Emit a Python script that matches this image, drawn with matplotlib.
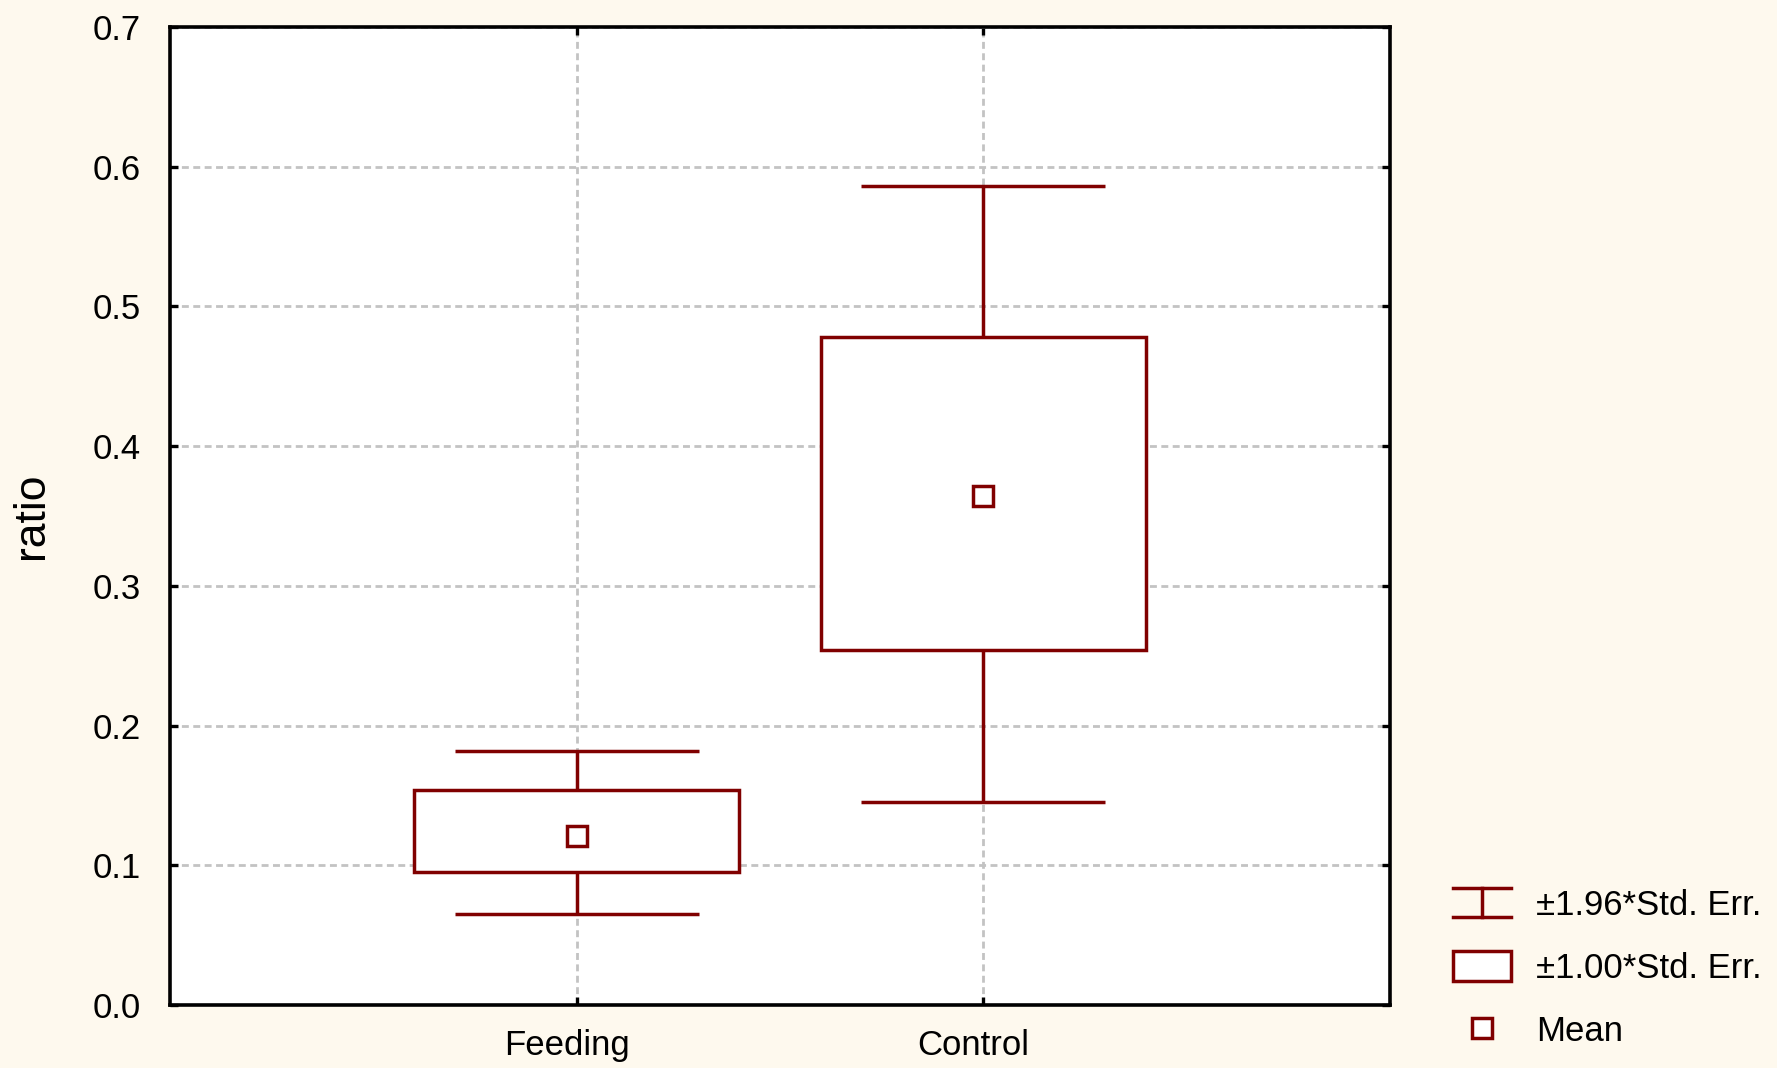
import matplotlib
matplotlib.use('Agg')
import matplotlib.pyplot as plt
import matplotlib.transforms as mtransforms
from matplotlib.patches import Rectangle
from matplotlib.lines import Line2D
from matplotlib.legend_handler import HandlerBase

# values
groups = ['Feeding', 'Control']
means = [0.121, 0.364]
se_lo = [0.095, 0.254]   # mean - 1.00*SE
se_hi = [0.154, 0.478]   # mean + 1.00*SE
ci_lo = [0.065, 0.145]   # mean - 1.96*SE
ci_hi = [0.182, 0.586]   # mean + 1.96*SE
yticks = [0.0, 0.1, 0.2, 0.3, 0.4, 0.5, 0.6, 0.7]

red = '#800000'
bg = '#fef9ee'
lw = 2.5

plt.rcParams['font.family'] = ['Liberation Sans', 'DejaVu Sans']

fig = plt.figure(figsize=(17.77, 10.68), dpi=100, facecolor=bg)
ax = fig.add_axes([170/1777, 1 - 1005/1068, (1390 - 170)/1777, (1005 - 27)/1068])

for i, g in enumerate(groups):
  x = i + 1
  ax.vlines(x, ci_lo[i], se_lo[i], color=red, lw=lw, zorder=3)
  ax.vlines(x, se_hi[i], ci_hi[i], color=red, lw=lw, zorder=3)
  ax.hlines([ci_lo[i], ci_hi[i]], x - 0.3, x + 0.3, color=red, lw=lw, zorder=3)
  ax.add_patch(Rectangle((x - 0.4, se_lo[i]), 0.8, se_hi[i] - se_lo[i],
                         fc='white', ec=red, lw=lw, zorder=3))
  ax.plot(x, means[i], 's', ms=15, mfc='white', mec=red, mew=lw, zorder=4)

ax.set_xlim(0, 3)
ax.set_ylim(0, 0.7)
ax.set_xticks([1, 2])
ax.set_xticklabels(groups)
ax.set_yticks(yticks)
ax.set_yticklabels(['%.1f' % t for t in yticks])
ax.tick_params(direction='in', length=6, width=2.4, labelsize=25,
               top=True, right=True)
ax.tick_params(axis='y', pad=21)
ax.tick_params(axis='x', pad=17)
for s in ax.spines.values():
  s.set_linewidth(2.6)
ax.grid(True, color='#c3c3c3', ls=(0, (2.5, 1.6)), lw=2)
ax.set_axisbelow(True)
ax.set_ylabel('ratio', fontsize=32)
ax.yaxis.set_label_coords(-0.097, 0.5)

# category labels sit a little left of their ticks in the original
shift = mtransforms.ScaledTranslation(-10/100, 0, fig.dpi_scale_trans)
for lab in ax.get_xticklabels():
  lab.set_transform(lab.get_transform() + shift)


class CapHandler(HandlerBase):
  def create_artists(self, legend, orig, xd, yd, w, h, fs, trans):
    x0, y0 = -xd, -yd
    arts = [Line2D([x0, x0 + w], [y0 + h, y0 + h]),
            Line2D([x0, x0 + w], [y0, y0]),
            Line2D([x0 + w/2, x0 + w/2], [y0, y0 + h])]
    for a in arts:
      a.set_color(red)
      a.set_linewidth(lw)
      a.set_transform(trans)
    return arts


class BoxHandler(HandlerBase):
  def create_artists(self, legend, orig, xd, yd, w, h, fs, trans):
    r = Rectangle((-xd, -yd), w, h, fc='white', ec=red, lw=lw, transform=trans)
    return [r]


cap_proxy = Line2D([], [])
box_proxy = Rectangle((0, 0), 1, 1)
mean_proxy = Line2D([], [], ls='none', marker='s', ms=15, mfc='white', mec=red, mew=lw)

fig.legend([cap_proxy, box_proxy, mean_proxy],
           ['±1.96*Std. Err.', '±1.00*Std. Err.', 'Mean'],
           handler_map={cap_proxy: CapHandler(), box_proxy: BoxHandler()},
           loc='lower left', bbox_to_anchor=(1453/1777, 20/1068),
           frameon=False, fontsize=25, borderpad=0, borderaxespad=0,
           handlelength=1.67, handleheight=0.92, handletextpad=0.72,
           labelspacing=0.85)

fig.savefig('out.png', dpi=100, facecolor=bg)
